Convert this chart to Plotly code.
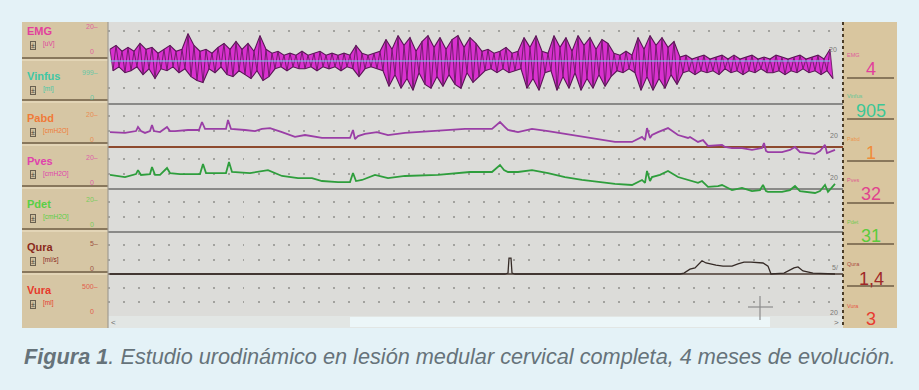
import plotly.graph_objects as go

W, H = 919, 390

# ---------------- data ----------------
# EMG envelope (uV), sampled every 6 s
emg_t = list(range(2, 723, 6))
emg_hi = [6, 8, 5, 7, 5, 9, 6, 7, 4, 6,
          8, 5, 6, 14, 8, 5, 6, 4, 7, 9,
          6, 10, 6, 9, 5, 13, 6, 4, 5, 3,
          4, 3, 5, 3, 4, 5, 3, 4, 3, 4,
          3, 8, 4, 3, 4, 5, 11, 6, 13, 8,
          12, 5, 10, 13, 7, 12, 6, 11, 13, 7,
          12, 9, 5, 6, 4, 5, 7, 4, 5, 12,
          7, 13, 5, 4, 13, 7, 12, 5, 13, 8,
          12, 6, 11, 9, 4, 3, 5, 3, 12, 6,
          13, 8, 12, 7, 10, 2, 3, 1, 2, 3,
          1, 2, 3, 1, 3, 1, 2, 3, 1, 2,
          1, 3, 2, 1, 2, 3, 1, 2, 3, 1,
          6]
emg_lo = [-5, -3, -6, -5, -3, -7, -4, -9, -4, -5,
          -3, -6, -4, -8, -10, -11, -4, -6, -3, -7,
          -8, -5, -7, -9, -5, -10, -8, -4, -3, -5,
          -3, -4, -4, -3, -5, -3, -4, -3, -5, -3,
          -4, -8, -4, -3, -4, -5, -13, -7, -14, -9,
          -15, -6, -12, -14, -8, -13, -7, -12, -14, -6,
          -11, -8, -5, -4, -6, -4, -6, -5, -4, -14,
          -9, -15, -6, -5, -15, -8, -14, -6, -15, -9,
          -14, -7, -13, -8, -5, -6, -4, -6, -15, -8,
          -15, -9, -14, -7, -12, -6, -5, -7, -5, -6,
          -5, -7, -4, -6, -5, -7, -5, -6, -4, -6,
          -6, -5, -7, -5, -6, -4, -6, -5, -7, -5,
          -9]
vinf_t = [2, 722]
vinf_v = [0, 0]

# Pabd (cmH2O)
pabd_t = [2, 17, 28, 30, 33, 37, 42, 44, 46, 52, 59, 62, 67, 80, 91, 94, 97, 110, 118, 120,
          123, 137, 147, 154, 162, 174, 187, 197, 214, 230, 242, 245, 247, 250, 257, 269, 280,
          297, 330, 357, 384, 392, 397, 400, 410, 424, 440, 457, 474, 490, 507, 524, 534, 537,
          539, 542, 544, 550, 560, 570, 580, 582, 590, 595, 600, 614, 617, 624, 634, 644, 654,
          656, 658, 660, 674, 682, 687, 692, 707, 712, 717, 719, 727]
pabd_v = [7.1, 6.7, 7.6, 9.5, 7.6, 6.7, 7.6, 10.5, 7.6, 7.1, 9.5, 7.6, 7.6, 8.1, 8.1, 11.9, 8.6,
          8.6, 8.6, 12.9, 8.6, 8.1, 7.6, 8.6, 9.0, 7.1, 4.8, 5.7, 4.3, 4.3, 4.3, 8.1, 3.8, 5.2,
          6.2, 7.1, 5.7, 6.7, 7.6, 8.6, 8.6, 11.9, 9.5, 8.1, 7.1, 8.6, 7.6, 6.2, 4.8, 3.8, 2.4,
          2.4, 4.8, 3.3, 9.0, 4.3, 5.7, 7.1, 9.0, 5.7, 4.3, 4.8, 2.4, 3.3, 0.5, 1.0, 0.0, -0.5,
          -0.5, -1.4, -0.5, 1.9, -1.9, -2.4, -2.4, -1.4, 0.0, -2.4, -3.3, -1.9, 1.0, -2.9, -1.4]

# Pves (cmH2O)
pves_t = [2, 17, 28, 30, 33, 42, 44, 47, 52, 59, 62, 72, 84, 92, 95, 98, 110, 118, 121, 124,
          142, 160, 174, 190, 204, 214, 230, 242, 245, 248, 254, 267, 280, 297, 330, 362, 384,
          392, 396, 400, 410, 424, 440, 457, 474, 490, 507, 524, 534, 537, 539, 542, 544, 552,
          560, 570, 580, 590, 594, 600, 610, 614, 620, 624, 634, 644, 652, 655, 658, 660, 674,
          682, 687, 692, 707, 712, 717, 720, 727]
pves_v = [6.7, 5.7, 7.1, 9.0, 6.7, 7.1, 10.5, 6.7, 6.7, 10.0, 7.6, 7.1, 7.1, 7.1, 11.9, 7.6,
          7.6, 7.6, 12.9, 8.1, 7.6, 9.0, 6.2, 5.2, 5.2, 3.8, 3.3, 3.3, 7.6, 3.8, 4.3, 6.7, 5.2,
          6.2, 6.7, 8.1, 8.1, 11.4, 9.0, 8.1, 8.1, 9.0, 7.6, 5.7, 4.3, 3.3, 2.4, 1.9, 4.3, 2.9,
          8.6, 3.8, 5.7, 6.7, 8.6, 5.7, 4.3, 2.9, 3.8, 1.0, 1.4, 1.9, 0.5, -0.5, 0.5, -1.0,
          -0.5, 1.9, -1.0, -1.4, -1.4, -0.5, 1.4, -1.0, -1.9, -1.0, 1.9, -1.4, 2.4]

# Qura (ml/s)
qura_t = [2, 397, 400, 401, 403, 404, 407, 572, 576, 582, 587, 594, 598, 601, 608, 615, 624,
          630, 636, 643, 650, 655, 660, 663, 676, 682, 686, 690, 695, 705, 727]
qura_v = [0, 0, 0.2, 3.6, 3.6, 0.2, 0, 0, 0.2, 1.1, 1.4, 3.0, 2.5, 2.3, 2.0, 1.8, 1.8, 2.3,
          2.7, 2.7, 2.5, 2.5, 1.8, 0, 0.2, 0.9, 1.4, 1.6, 0.7, 0.2, 0]

# channel labels / scales / current read-outs
ch_names = ["EMG", "Vinfus", "Pabd", "Pves", "Pdet", "Qura", "Vura"]
ch_units = ["[uV]", "[ml]", "[cmH2O]", "[cmH2O]", "[cmH2O]", "[ml/s]", "[ml]"]
ch_top = ["20", "999", "20", "20", "20", "5", "500"]
ch_now = ["4", "905", "1", "32", "31", "1,4", "3"]
ch_col = ["#e23f9c", "#3fc7a4", "#f07a38", "#e042ac", "#58cf45", "#8a2a1c", "#e63a2c"]
now_col = ["#e23f9c", "#3cc796", "#f08c3a", "#e0448e", "#5ccb3c", "#a02828", "#e83c30"]

caption = ("<b>Figura 1</b>. Estudio urodinámico en lesión medular cervical completa, "
           "4 meses de evolución.")

# ---------------- layout geometry (pixels) ----------------
PX0, PX1 = 108, 843          # plot area x
PY0, PY1 = 22, 316           # plot area y
T_RANGE = [0, PX1 - PX0]


def X(px):
    return px / W


def Y(py):
    return 1 - py / H


def yrange(zero_px, px_per_unit):
    return [(zero_px - PY1) / px_per_unit, (zero_px - PY0) / px_per_unit]


# interleave EMG envelope into a dense zig-zag
emg_x, emg_y = [], []
for t, hi, lo in zip(emg_t, emg_hi, emg_lo):
    emg_x += [t, t + 3]
    emg_y += [hi, lo]
emg_t_lo = [t + 3 for t in emg_t]

fig = go.Figure()
fig.add_trace(go.Scatter(x=[T_RANGE[0]], y=[PY1], mode="markers", marker=dict(opacity=0),
                         hoverinfo="skip", showlegend=False, yaxis="y"))
# EMG: filled envelope + dark strokes
fig.add_trace(go.Scatter(x=emg_t, y=emg_hi, mode="lines", yaxis="y2",
                         line=dict(color="#5a1656", width=1.1), showlegend=False))
fig.add_trace(go.Scatter(x=emg_t_lo, y=emg_lo, mode="lines", yaxis="y2", fill="tonexty",
                         fillcolor="#d930cf", line=dict(color="#5a1656", width=1.1),
                         showlegend=False))
fig.add_trace(go.Scatter(x=emg_x, y=emg_y, mode="lines", yaxis="y2", opacity=0.85,
                         line=dict(color="#641a5e", width=1.0), showlegend=False))
fig.add_trace(go.Scatter(x=vinf_t, y=vinf_v, mode="lines", yaxis="y2",
                         line=dict(color="#78d4ee", width=1.2), showlegend=False))
fig.add_trace(go.Scatter(x=pabd_t, y=pabd_v, mode="lines", yaxis="y3",
                         line=dict(color="#9a3ea6", width=1.8), showlegend=False))
fig.add_trace(go.Scatter(x=pves_t, y=pves_v, mode="lines", yaxis="y4",
                         line=dict(color="#2e9e3c", width=1.8), showlegend=False))
fig.add_trace(go.Scatter(x=qura_t, y=qura_v, mode="lines", yaxis="y5",
                         line=dict(color="#352a26", width=1.3), showlegend=False))

hidden = dict(visible=False, showgrid=False, zeroline=False)
dom_y = [Y(PY1), Y(PY0)]
fig.update_layout(
    width=W, height=H, margin=dict(l=0, r=0, t=0, b=0),
    paper_bgcolor="#e4f2f7", plot_bgcolor="#dcdcd9",
    xaxis=dict(domain=[X(PX0), X(PX1)], range=T_RANGE, visible=False,
               showgrid=False, zeroline=False),
    yaxis=dict(domain=dom_y, range=[PY1, PY0], showgrid=True,
               tickvals=[31, 88, 116, 131, 159, 174, 202, 217, 245, 260, 288, 302],
               gridcolor="#a2a29e", gridwidth=1.5, griddash="1.5px,13.5px",
               showticklabels=False, ticks="", zeroline=False, showline=False),
    yaxis2=dict(overlaying="y", range=yrange(61, 1.95), **hidden),
    yaxis3=dict(overlaying="y", range=yrange(147, 2.1), **hidden),
    yaxis4=dict(overlaying="y", range=yrange(189, 2.1), **hidden),
    yaxis5=dict(overlaying="y", range=yrange(274, 4.4), **hidden),
)

shapes = []


def rect(x0, y0, x1, y1, fill, layer="below"):
    shapes.append(dict(type="rect", xref="paper", yref="paper", x0=X(x0), x1=X(x1),
                       y0=Y(y1), y1=Y(y0), fillcolor=fill, line=dict(width=0), layer=layer))


def hline(x0, x1, y, color, width, layer="above", dash="solid"):
    shapes.append(dict(type="line", xref="paper", yref="paper", x0=X(x0), x1=X(x1),
                       y0=Y(y), y1=Y(y), line=dict(color=color, width=width, dash=dash),
                       layer=layer))


def vline(x, y0, y1, color, width, layer="above", dash="solid"):
    shapes.append(dict(type="line", xref="paper", yref="paper", x0=X(x), x1=X(x),
                       y0=Y(y0), y1=Y(y1), line=dict(color=color, width=width, dash=dash),
                       layer=layer))


# screen frame and panels
rect(22, 22, 108, 328, "#d6c6a4")
rect(843, 22, 897, 328, "#d9c69f")
rect(108, 316, 843, 328, "#e2e6e4")
rect(350, 317, 770, 327, "#ecf6f8")

# left panel separators
for yy in [58, 100, 143, 186, 229, 272]:
    hline(22, 108, yy, "#6e5c44", 1.6)
    hline(22, 108, yy + 2, "#efe3c8", 1)
# right panel separators
for yy in [78, 119, 161, 203, 244, 286]:
    hline(847, 894, yy, "#6e5c44", 1.6)

# band separators inside plot (axis-referenced, between grid and traces)
for yy, col, wd in [(104, "#6f6f6c", 1.6), (147, "#8e4a2e", 2.2), (189, "#6f6f6c", 1.6),
                    (232, "#6f6f6c", 1.6), (274, "#4a3a30", 1.6)]:
    shapes.append(dict(type="line", xref="x", yref="y", x0=T_RANGE[0], x1=T_RANGE[1],
                       y0=yy, y1=yy, line=dict(color=col, width=wd), layer="between"))

vline(108, 22, 328, "#a09c92", 1.2)
vline(843, 22, 328, "#4a3c28", 2, dash="dot")
# cursor crosshair
hline(748, 773, 307, "#8c8c8c", 1.2)
vline(760, 296, 320, "#8c8c8c", 1.2)
fig.update_layout(shapes=shapes)

# ---------------- text ----------------
anns = []
SANS = "Liberation Sans, Arial, sans-serif"
NARROW = "Liberation Sans Narrow, Arial Narrow, Liberation Sans, sans-serif"


def txt(s, x, y, size, color, xanchor="left", family=SANS, **kw):
    anns.append(dict(text=s, x=X(x), y=Y(y), xref="paper", yref="paper", xanchor=xanchor,
                     yanchor="middle", showarrow=False,
                     font=dict(size=size, color=color, family=family), **kw))


lab_y = [31, 76, 118, 161, 204, 247, 290]
for i, name in enumerate(ch_names):
    ly = lab_y[i]
    txt("<b>" + name + "</b>", 25, ly, 11, ch_col[i])
    txt("±", 33, ly + 14, 7, "#4a4038", xanchor="center", bordercolor="#6a6050",
        borderwidth=1, borderpad=0, bgcolor="#cfc09e")
    txt(ch_units[i], 41, ly + 13, 6.5, ch_col[i])
    txt(ch_top[i] + "–", 100, ly - 4, 7, ch_col[i], xanchor="right", opacity=0.75)
    txt("0", 96, ly + 21, 7, ch_col[i], xanchor="right", opacity=0.75)

sm_y = [55, 96, 139, 180, 222, 264, 306]
num_y = [69, 111, 153, 194, 236, 279, 319]
for i, name in enumerate(ch_names):
    txt(name, 845, sm_y[i], 5.5, now_col[i], opacity=0.8)
    txt(ch_now[i], 871, num_y[i], 18, now_col[i], xanchor="center", family=NARROW)

for (xx, yy, s) in [(833, 49, "20"), (834, 135, "20"), (834, 178, "20"),
                    (835, 267, "5/"), (834, 312, "20")]:
    txt(s, xx, yy, 7, "#7a7a76", xanchor="center")
txt("<", 113, 322, 8, "#6a6a6a", xanchor="center")
txt(">", 836, 322, 8, "#6a6a6a", xanchor="center")

anns.append(dict(text=caption, x=X(22), y=Y(356), xref="paper", yref="paper",
                 xanchor="left", yanchor="middle", showarrow=False,
                 font=dict(size=21.7, color="#66737a", family=SANS, style="italic")))
fig.update_layout(annotations=anns)

fig.write_html("out.html", config={"displayModeBar": False}, post_script=(
    "document.body.style.margin='0px';"
    "document.body.style.backgroundColor='#e4f2f7';"
    "document.body.style.overflow='hidden';"))
